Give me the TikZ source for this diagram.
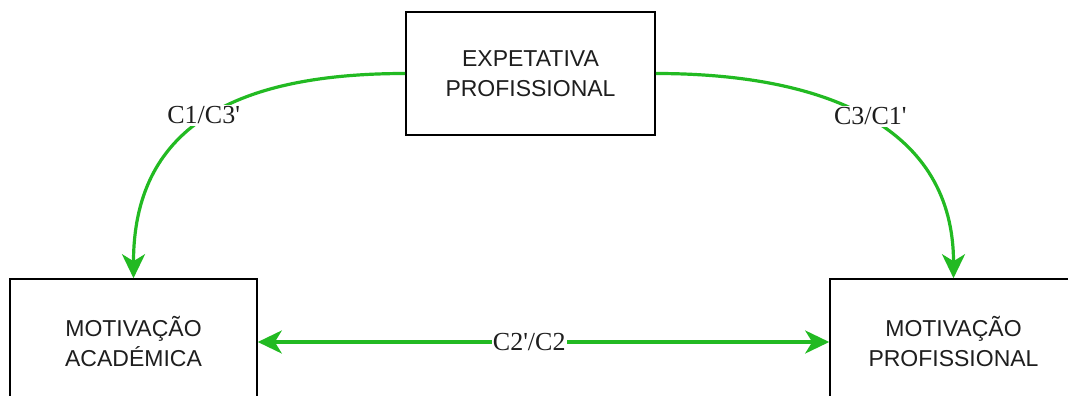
\documentclass[tikz,border=0pt]{standalone}
\usepackage{fontspec}
\setmainfont{Liberation Serif}
\newfontfamily\boxfont{Liberation Sans}
\usetikzlibrary{arrows.meta}
\definecolor{lgreen}{RGB}{34,186,34}
\definecolor{txt}{RGB}{30,30,30}
\tikzset{
  box/.style={draw=black, line width=1.6pt, fill=white, align=center,
    font=\boxfont\fontsize{23}{30}\selectfont, text=txt, inner sep=0pt},
  link/.style={draw=lgreen, line width=3.2pt},
  tip/.style={-{Stealth[length=24pt,width=23pt,inset=7pt]}},
  lbl/.style={fill=white, font=\fontsize{26}{30}\selectfont, text=txt, inner sep=2pt}
}
\begin{document}
\begin{tikzpicture}[x=1pt,y=-1pt]
\useasboundingbox (0,0) rectangle (1068,396);
\clip (0,0) rectangle (1068,396);
\fill[white] (0,0) rectangle (1068,396);
\node[box, minimum width=249pt, minimum height=123pt] (top) at (530.5,73.5) {EXPETATIVA\\PROFISSIONAL};
\node[box, minimum width=247pt, minimum height=126pt] (left) at (133.5,342) {MOTIVAÇÃO\\ACADÉMICA};
\node[box, minimum width=247pt, minimum height=126pt] (right) at (953.5,342) {MOTIVAÇÃO\\PROFISSIONAL};
\draw[link, tip] (top.west) .. controls (230,73.5) and (133.5,130) .. (left.north)
  node[lbl, pos=0.5, yshift=5pt] (l1) {C1/C3\textquotesingle};
\draw[link, tip] (top.east) .. controls (831,73.5) and (953.5,130) .. (right.north)
  node[lbl, pos=0.5, yshift=4pt] (l2) {C3/C1\textquotesingle};
\draw[link, {Stealth[length=24pt,width=23pt,inset=7pt]}-{Stealth[length=24pt,width=23pt,inset=7pt]}] (left.east) -- (right.west)
  node[lbl, pos=0.475, inner sep=1pt] (l3) {C2\textquotesingle/C2};
\end{tikzpicture}
\end{document}
